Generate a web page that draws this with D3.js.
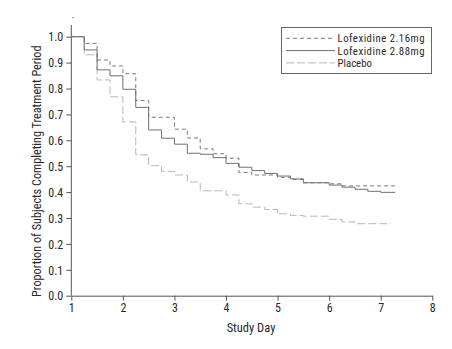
<!DOCTYPE html>
<html>
<head>
<meta charset="utf-8">
<script src="https://cdn.jsdelivr.net/npm/d3@7"></script>
<style>
  body { margin: 0; background: #fff; }
  svg text { font-family: "Liberation Sans Narrow", "Roboto Condensed", "Arial Narrow", "Liberation Sans", sans-serif; fill: #2a2a2a; }
</style>
</head>
<body>
<div id="chart"></div>
<script>
// Study day at which each assessment step happens
const days = [1, 1.25, 1.5, 1.75, 2, 2.25, 2.5, 2.75, 3, 3.25, 3.5, 3.75, 4,
              4.25, 4.5, 4.75, 5, 5.25, 5.5, 5.75, 6, 6.25, 6.5, 6.75, 7];

// Proportion still in treatment
const lofex216 = [1, .974, .910, .887, .857, .754, .689, .689, .643, .609, .567, .548, .531,
                  .476, .466, .466, .457, .449, .436, .436, .432, .424, .424, .424, .424];
const lofex288 = [1, .949, .872, .849, .797, .727, .640, .608, .585, .550, .546, .533, .511,
                  .496, .483, .472, .462, .451, .436, .436, .427, .419, .411, .403, .399];
const placebo  = [1, .930, .833, .768, .671, .544, .502, .480, .466, .439, .405, .405, .389,
                  .355, .342, .333, .316, .310, .307, .307, .295, .285, .278, .278, .278];

// last day each curve is drawn to
const endDays = [7.28, 7.28, 7.2];

const seriesNames = ["Lofexidine 2.16mg", "Lofexidine 2.88mg", "Placebo"];
const xTicks = [1, 2, 3, 4, 5, 6, 7, 8];
const yTicks = [0, 0.1, 0.2, 0.3, 0.4, 0.5, 0.6, 0.7, 0.8, 0.9, 1.0];

const width = 452, height = 349;

const svg = d3.select("#chart").append("svg")
    .attr("width", width).attr("height", height);

const x = d3.scaleLinear().domain([1, 8]).range([71.3, 432.3]);
const y = d3.scaleLinear().domain([0, 1]).range([295.7, 36.7]);

// Styles per series
const styles = [
  { stroke: "#7a7a7a", dash: "4,3" },
  { stroke: "#707070", dash: null },
  { stroke: "#b8b8b8", dash: "8,3" }
];

// Axes
const yAxis = svg.append("g")
    .attr("transform", `translate(${x(1)},0)`)
    .call(d3.axisLeft(y).tickValues(yTicks).tickFormat(d3.format(".1f")).tickSize(5).tickSizeOuter(0));
yAxis.select(".domain").remove();
yAxis.append("line")
    .attr("x1", 0).attr("x2", 0)
    .attr("y1", y(0)).attr("y2", y(1.045))
    .attr("stroke", "#555");

const xAxis = svg.append("g")
    .attr("transform", `translate(0,${y(0)})`)
    .call(d3.axisBottom(x).tickValues(xTicks).tickFormat(d3.format("d")).tickSize(5).tickSizeOuter(0));

svg.selectAll(".tick line").attr("stroke", "#555");
svg.selectAll(".domain").attr("stroke", "#555");
svg.selectAll(".tick text").attr("font-size", 12).style("fill", "#2a2a2a");
yAxis.selectAll(".tick text").attr("x", -8).attr("dy", "0.35em");
xAxis.selectAll(".tick text").attr("y", 8);

// Axis titles
svg.append("text")
    .attr("x", 251).attr("y", 332)
    .attr("text-anchor", "middle")
    .attr("font-size", 12.5)
    .text("Study Day");

svg.append("text")
    .attr("transform", `translate(41,${(y(0) + y(1)) / 2 + 5}) rotate(-90)`)
    .attr("text-anchor", "middle")
    .attr("font-size", 12.2)
    .text("Proportion of Subjects Completing Treatment Period");

// Step curves
const line = d3.line()
    .x(d => x(d[0]))
    .y(d => y(d[1]))
    .curve(d3.curveStepAfter);

const allSeries = [lofex216, lofex288, placebo];
// draw placebo first so drug curves sit on top
[2, 0, 1].forEach(i => {
  const vals = allSeries[i];
  const pts = days.map((d, j) => [d, vals[j]]);
  pts.push([endDays[i], vals[vals.length - 1]]);
  svg.append("path")
      .datum(pts)
      .attr("fill", "none")
      .attr("stroke", styles[i].stroke)
      .attr("stroke-width", 1)
      .attr("stroke-dasharray", styles[i].dash)
      .attr("d", line);
});

// Legend
const legend = svg.append("g");
legend.append("rect")
    .attr("x", 281.5).attr("y", 27.5)
    .attr("width", 150).attr("height", 46)
    .attr("fill", "#fff")
    .attr("stroke", "#666");

seriesNames.forEach((name, i) => {
  const ly = 38.3 + i * 12.3;
  legend.append("line")
      .attr("x1", 286).attr("x2", 335)
      .attr("y1", ly).attr("y2", ly)
      .attr("stroke", styles[i].stroke)
      .attr("stroke-dasharray", styles[i].dash);
  legend.append("text")
      .attr("x", 337.5).attr("y", ly + 4)
      .attr("font-size", 10.8)
      .attr("textLength", i < 2 ? 87 : null)
      .text(name);
});

// small mark above the axis top
svg.append("rect")
    .attr("x", 72).attr("y", 17).attr("width", 2).attr("height", 1)
    .attr("fill", "#999");
</script>
</body>
</html>
